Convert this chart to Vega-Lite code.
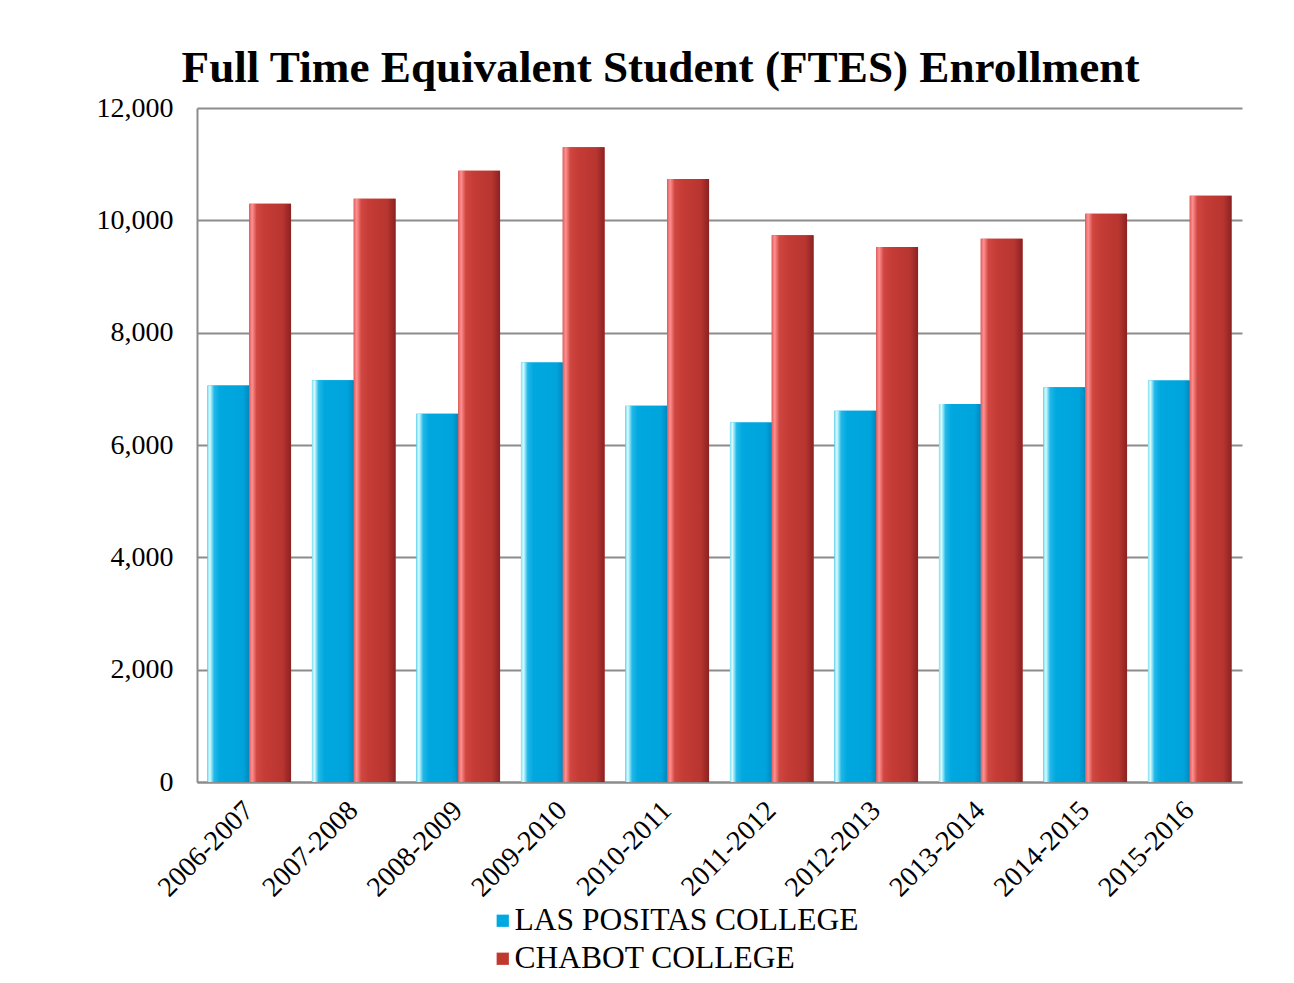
{
  "$schema": "https://vega.github.io/schema/vega-lite/v6.json",
  "width": 1045,
  "height": 674,
  "autosize": {"type": "none"},
  "padding": {"left": 197, "top": 108, "right": 52, "bottom": 201},
  "background": "white",
  "config": {"view": {"stroke": null}},
  "title": {
    "text": "Full Time Equivalent Student (FTES) Enrollment",
    "font": "Liberation Serif",
    "fontSize": 45.2,
    "fontWeight": "bold",
    "color": "black",
    "anchor": "middle",
    "dx": -59,
    "offset": 3
  },
  "data": {
    "values": [
      {"year": "2006-2007", "college": "LAS POSITAS COLLEGE", "ftes": 7060},
      {"year": "2006-2007", "college": "CHABOT COLLEGE", "ftes": 10296},
      {"year": "2007-2008", "college": "LAS POSITAS COLLEGE", "ftes": 7155},
      {"year": "2007-2008", "college": "CHABOT COLLEGE", "ftes": 10385},
      {"year": "2008-2009", "college": "LAS POSITAS COLLEGE", "ftes": 6556},
      {"year": "2008-2009", "college": "CHABOT COLLEGE", "ftes": 10883},
      {"year": "2009-2010", "college": "LAS POSITAS COLLEGE", "ftes": 7471},
      {"year": "2009-2010", "college": "CHABOT COLLEGE", "ftes": 11300},
      {"year": "2010-2011", "college": "LAS POSITAS COLLEGE", "ftes": 6698},
      {"year": "2010-2011", "college": "CHABOT COLLEGE", "ftes": 10735},
      {"year": "2011-2012", "college": "LAS POSITAS COLLEGE", "ftes": 6402},
      {"year": "2011-2012", "college": "CHABOT COLLEGE", "ftes": 9733},
      {"year": "2012-2013", "college": "LAS POSITAS COLLEGE", "ftes": 6609},
      {"year": "2012-2013", "college": "CHABOT COLLEGE", "ftes": 9524},
      {"year": "2013-2014", "college": "LAS POSITAS COLLEGE", "ftes": 6728},
      {"year": "2013-2014", "college": "CHABOT COLLEGE", "ftes": 9672},
      {"year": "2014-2015", "college": "LAS POSITAS COLLEGE", "ftes": 7026},
      {"year": "2014-2015", "college": "CHABOT COLLEGE", "ftes": 10118},
      {"year": "2015-2016", "college": "LAS POSITAS COLLEGE", "ftes": 7150},
      {"year": "2015-2016", "college": "CHABOT COLLEGE", "ftes": 10438}
    ]
  },
  "encoding": {
    "x": {
      "field": "year",
      "type": "nominal",
      "sort": null,
      "title": null,
      "scale": {"paddingInner": 0.2, "paddingOuter": 0.1},
      "axis": {
        "labelAngle": -45,
        "labelAlign": "right",
        "labelBaseline": "middle",
        "labelFont": "Liberation Serif",
        "labelFontSize": 28,
        "labelColor": "black",
        "labelPadding": 24,
        "ticks": false,
        "domainColor": "#8c8c8c",
        "domainWidth": 2,
        "grid": false
      }
    },
    "xOffset": {
      "field": "college",
      "type": "nominal",
      "sort": ["LAS POSITAS COLLEGE", "CHABOT COLLEGE"],
      "scale": {"paddingInner": 0, "paddingOuter": 0}
    },
    "y": {
      "field": "ftes",
      "type": "quantitative",
      "title": null,
      "scale": {"domain": [0, 12000], "nice": false},
      "axis": {
        "values": [0, 2000, 4000, 6000, 8000, 10000, 12000],
        "format": ",d",
        "labelFont": "Liberation Serif",
        "labelFontSize": 28,
        "labelColor": "black",
        "labelPadding": 24,
        "ticks": false,
        "domainColor": "#8c8c8c",
        "domainWidth": 2,
        "gridColor": "#8c8c8c",
        "gridWidth": 2
      }
    }
  },
  "layer": [
    {
      "mark": {"type": "bar"},
      "encoding": {
        "color": {
          "field": "college",
          "type": "nominal",
          "sort": ["LAS POSITAS COLLEGE", "CHABOT COLLEGE"],
          "scale": {"domain": ["LAS POSITAS COLLEGE", "CHABOT COLLEGE"], "range": ["#00a8e0", "#c0392f"]},
          "legend": {
            "title": null,
            "orient": "none",
            "legendX": 290,
            "legendY": 797,
            "direction": "vertical",
            "symbolType": "square",
            "symbolSize": 150,
            "symbolStrokeWidth": 0,
            "labelFont": "Liberation Serif",
            "labelFontSize": 31.5,
            "labelColor": "black",
            "labelOffset": -4,
            "rowPadding": 5,
            "labelLimit": 600
          }
        }
      }
    },
    {
      "mark": {"type": "bar"},
      "encoding": {
        "fill": {
          "condition": {
            "test": "datum.college === 'LAS POSITAS COLLEGE'",
            "value": {
              "gradient": "linear", "x1": 0, "x2": 1, "y1": 0, "y2": 0,
              "stops": [
                {"offset": 0, "color": "#7fe0f4"},
                {"offset": 0.06, "color": "#d8fcff"},
                {"offset": 0.16, "color": "#20b8e8"},
                {"offset": 0.3, "color": "#00a8e0"},
                {"offset": 0.85, "color": "#00a4dc"},
                {"offset": 1, "color": "#0088c0"}
              ]
            }
          },
          "value": {
            "gradient": "linear", "x1": 0, "x2": 1, "y1": 0, "y2": 0,
            "stops": [
              {"offset": 0, "color": "#e06060"},
              {"offset": 0.07, "color": "#ff9090"},
              {"offset": 0.18, "color": "#d04640"},
              {"offset": 0.35, "color": "#c63c36"},
              {"offset": 0.8, "color": "#b83530"},
              {"offset": 1, "color": "#8a2222"}
            ]
          }
        }
      }
    }
  ]
}
